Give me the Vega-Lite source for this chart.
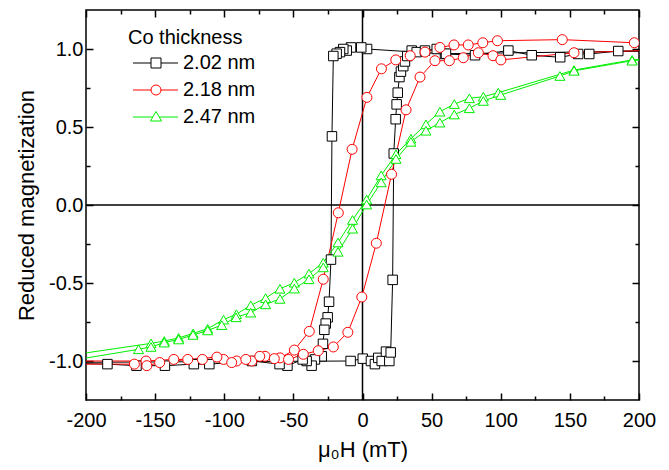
{
  "$schema": "https://vega.github.io/schema/vega-lite/v6.json",
  "width": 553,
  "height": 390,
  "autosize": {"type": "none"},
  "padding": {"left": 86, "top": 10, "right": 30, "bottom": 70},
  "config": {"font": "Liberation Sans", "view": {"stroke": "#000", "strokeWidth": 1.5}},
  "data": {"values": [
    {"s":"2.02 nm","i":1,"H":240,"M":0.99},
    {"s":"2.02 nm","i":2,"H":185,"M":0.987},
    {"s":"2.02 nm","i":3,"H":164,"M":0.968},
    {"s":"2.02 nm","i":4,"H":156,"M":0.968},
    {"s":"2.02 nm","i":5,"H":143,"M":0.947},
    {"s":"2.02 nm","i":6,"H":122.4,"M":0.96},
    {"s":"2.02 nm","i":7,"H":105.5,"M":0.99},
    {"s":"2.02 nm","i":8,"H":81.4,"M":0.96},
    {"s":"2.02 nm","i":9,"H":59.7,"M":0.968},
    {"s":"2.02 nm","i":10,"H":3.3,"M":1.0},
    {"s":"2.02 nm","i":11,"H":-0.9,"M":1.01},
    {"s":"2.02 nm","i":12,"H":-8.3,"M":1.01},
    {"s":"2.02 nm","i":13,"H":-11.4,"M":0.99},
    {"s":"2.02 nm","i":14,"H":-13.9,"M":1.0},
    {"s":"2.02 nm","i":15,"H":-16.3,"M":0.98},
    {"s":"2.02 nm","i":16,"H":-18.7,"M":0.97},
    {"s":"2.02 nm","i":17,"H":-21.1,"M":0.955},
    {"s":"2.02 nm","i":18,"H":-22.1,"M":0.44},
    {"s":"2.02 nm","i":19,"H":-22.8,"M":-0.35},
    {"s":"2.02 nm","i":20,"H":-24.2,"M":-0.62},
    {"s":"2.02 nm","i":21,"H":-25.2,"M":-0.72},
    {"s":"2.02 nm","i":22,"H":-26.6,"M":-0.76},
    {"s":"2.02 nm","i":23,"H":-27.6,"M":-0.8},
    {"s":"2.02 nm","i":24,"H":-28.6,"M":-0.89},
    {"s":"2.02 nm","i":25,"H":-29.5,"M":-0.97},
    {"s":"2.02 nm","i":26,"H":-34.4,"M":-0.99},
    {"s":"2.02 nm","i":27,"H":-36.8,"M":-1.03},
    {"s":"2.02 nm","i":28,"H":-40.4,"M":-1.0},
    {"s":"2.02 nm","i":29,"H":-43.3,"M":-0.99},
    {"s":"2.02 nm","i":30,"H":-54.3,"M":-1.03},
    {"s":"2.02 nm","i":31,"H":-60,"M":-1.02},
    {"s":"2.02 nm","i":32,"H":-80,"M":-1.0},
    {"s":"2.02 nm","i":33,"H":-110.8,"M":-1.02},
    {"s":"2.02 nm","i":34,"H":-122,"M":-1.02},
    {"s":"2.02 nm","i":35,"H":-142.9,"M":-1.03},
    {"s":"2.02 nm","i":36,"H":-163.5,"M":-1.03},
    {"s":"2.02 nm","i":37,"H":-184.5,"M":-1.02},
    {"s":"2.02 nm","i":38,"H":-240,"M":-1.01},
    {"s":"2.02 nm","i":39,"H":-8.6,"M":-1.0},
    {"s":"2.02 nm","i":40,"H":0.2,"M":-0.985},
    {"s":"2.02 nm","i":41,"H":6.1,"M":-1.0},
    {"s":"2.02 nm","i":42,"H":9.0,"M":-1.02},
    {"s":"2.02 nm","i":43,"H":11.4,"M":-0.98},
    {"s":"2.02 nm","i":44,"H":13.9,"M":-1.0},
    {"s":"2.02 nm","i":45,"H":17.0,"M":-0.94},
    {"s":"2.02 nm","i":46,"H":19.4,"M":-1.0},
    {"s":"2.02 nm","i":47,"H":20.4,"M":-0.945},
    {"s":"2.02 nm","i":48,"H":21.8,"M":-0.48},
    {"s":"2.02 nm","i":49,"H":22.6,"M":0.33},
    {"s":"2.02 nm","i":50,"H":24.0,"M":0.55},
    {"s":"2.02 nm","i":51,"H":24.7,"M":0.645},
    {"s":"2.02 nm","i":52,"H":25.5,"M":0.72},
    {"s":"2.02 nm","i":53,"H":26.7,"M":0.82},
    {"s":"2.02 nm","i":54,"H":27.8,"M":0.855},
    {"s":"2.02 nm","i":55,"H":29.5,"M":0.89},
    {"s":"2.02 nm","i":56,"H":30.7,"M":0.92},
    {"s":"2.02 nm","i":57,"H":32.4,"M":0.955},
    {"s":"2.02 nm","i":58,"H":35.6,"M":0.99},
    {"s":"2.02 nm","i":59,"H":39.2,"M":0.98},
    {"s":"2.02 nm","i":60,"H":45.2,"M":0.99},
    {"s":"2.02 nm","i":61,"H":53.7,"M":1.0},
    {"s":"2.02 nm","i":62,"H":60.4,"M":0.97},
    {"s":"2.02 nm","i":63,"H":240,"M":0.99},
    {"s":"2.18 nm","i":1,"H":240,"M":1.03},
    {"s":"2.18 nm","i":2,"H":196.6,"M":1.04},
    {"s":"2.18 nm","i":3,"H":144.5,"M":1.06},
    {"s":"2.18 nm","i":4,"H":97.6,"M":1.053},
    {"s":"2.18 nm","i":5,"H":87,"M":1.04},
    {"s":"2.18 nm","i":6,"H":76.5,"M":1.026},
    {"s":"2.18 nm","i":7,"H":66.2,"M":1.026},
    {"s":"2.18 nm","i":8,"H":56,"M":1.01},
    {"s":"2.18 nm","i":9,"H":45.2,"M":0.98},
    {"s":"2.18 nm","i":10,"H":34.5,"M":0.957},
    {"s":"2.18 nm","i":11,"H":24.1,"M":0.93},
    {"s":"2.18 nm","i":12,"H":13.7,"M":0.873},
    {"s":"2.18 nm","i":13,"H":3.2,"M":0.69},
    {"s":"2.18 nm","i":14,"H":-7.5,"M":0.357},
    {"s":"2.18 nm","i":15,"H":-17.5,"M":-0.05},
    {"s":"2.18 nm","i":16,"H":-28.4,"M":-0.476},
    {"s":"2.18 nm","i":17,"H":-38.5,"M":-0.81},
    {"s":"2.18 nm","i":18,"H":-49.3,"M":-0.93},
    {"s":"2.18 nm","i":19,"H":-59.7,"M":-0.98},
    {"s":"2.18 nm","i":20,"H":-70.5,"M":-0.97},
    {"s":"2.18 nm","i":21,"H":-80.1,"M":-1.0},
    {"s":"2.18 nm","i":22,"H":-91,"M":-1.0},
    {"s":"2.18 nm","i":23,"H":-100.5,"M":-0.99},
    {"s":"2.18 nm","i":24,"H":-115.8,"M":-0.99},
    {"s":"2.18 nm","i":25,"H":-136.5,"M":-0.99},
    {"s":"2.18 nm","i":26,"H":-156.6,"M":-1.0},
    {"s":"2.18 nm","i":27,"H":-240,"M":-1.0},
    {"s":"2.18 nm","i":28,"H":-240,"M":-1.02},
    {"s":"2.18 nm","i":29,"H":-165,"M":-1.02},
    {"s":"2.18 nm","i":30,"H":-156,"M":-1.03},
    {"s":"2.18 nm","i":31,"H":-146.7,"M":-1.01},
    {"s":"2.18 nm","i":32,"H":-126.4,"M":-0.99},
    {"s":"2.18 nm","i":33,"H":-105.3,"M":-0.975},
    {"s":"2.18 nm","i":34,"H":-94.6,"M":-1.01},
    {"s":"2.18 nm","i":35,"H":-84.4,"M":-0.99},
    {"s":"2.18 nm","i":36,"H":-74.3,"M":-0.97},
    {"s":"2.18 nm","i":37,"H":-63.8,"M":-0.985},
    {"s":"2.18 nm","i":38,"H":-53.5,"M":-0.99},
    {"s":"2.18 nm","i":39,"H":-42.8,"M":-0.957},
    {"s":"2.18 nm","i":40,"H":-32,"M":-0.934},
    {"s":"2.18 nm","i":41,"H":-21.1,"M":-0.91},
    {"s":"2.18 nm","i":42,"H":-10.6,"M":-0.816},
    {"s":"2.18 nm","i":43,"H":-0.5,"M":-0.59},
    {"s":"2.18 nm","i":44,"H":10.0,"M":-0.245},
    {"s":"2.18 nm","i":45,"H":21,"M":0.197},
    {"s":"2.18 nm","i":46,"H":31.5,"M":0.61},
    {"s":"2.18 nm","i":47,"H":41.6,"M":0.82},
    {"s":"2.18 nm","i":48,"H":52.4,"M":0.925},
    {"s":"2.18 nm","i":49,"H":62.8,"M":0.925},
    {"s":"2.18 nm","i":50,"H":72.9,"M":0.944},
    {"s":"2.18 nm","i":51,"H":83.8,"M":0.976},
    {"s":"2.18 nm","i":52,"H":94.4,"M":0.957},
    {"s":"2.18 nm","i":53,"H":100.1,"M":0.93},
    {"s":"2.18 nm","i":54,"H":153,"M":0.976},
    {"s":"2.18 nm","i":55,"H":240,"M":1.0},
    {"s":"2.47 nm","i":1,"H":240,"M":0.96},
    {"s":"2.47 nm","i":2,"H":195,"M":0.93},
    {"s":"2.47 nm","i":3,"H":153,"M":0.865},
    {"s":"2.47 nm","i":4,"H":98.2,"M":0.72},
    {"s":"2.47 nm","i":5,"H":87.4,"M":0.694},
    {"s":"2.47 nm","i":6,"H":77.3,"M":0.684},
    {"s":"2.47 nm","i":7,"H":66.4,"M":0.647},
    {"s":"2.47 nm","i":8,"H":56,"M":0.598},
    {"s":"2.47 nm","i":9,"H":45.9,"M":0.517},
    {"s":"2.47 nm","i":10,"H":35,"M":0.425},
    {"s":"2.47 nm","i":11,"H":24.2,"M":0.325},
    {"s":"2.47 nm","i":12,"H":13.5,"M":0.19},
    {"s":"2.47 nm","i":13,"H":3.0,"M":0.035},
    {"s":"2.47 nm","i":14,"H":-7.2,"M":-0.096},
    {"s":"2.47 nm","i":15,"H":-17.7,"M":-0.24},
    {"s":"2.47 nm","i":16,"H":-28.4,"M":-0.37},
    {"s":"2.47 nm","i":17,"H":-38.7,"M":-0.44},
    {"s":"2.47 nm","i":18,"H":-49.3,"M":-0.498},
    {"s":"2.47 nm","i":19,"H":-59.7,"M":-0.537},
    {"s":"2.47 nm","i":20,"H":-70.1,"M":-0.597},
    {"s":"2.47 nm","i":21,"H":-80.8,"M":-0.643},
    {"s":"2.47 nm","i":22,"H":-91.2,"M":-0.7},
    {"s":"2.47 nm","i":23,"H":-100.5,"M":-0.735},
    {"s":"2.47 nm","i":24,"H":-112,"M":-0.793},
    {"s":"2.47 nm","i":25,"H":-122.5,"M":-0.823},
    {"s":"2.47 nm","i":26,"H":-133,"M":-0.852},
    {"s":"2.47 nm","i":27,"H":-143.4,"M":-0.872},
    {"s":"2.47 nm","i":28,"H":-153,"M":-0.887},
    {"s":"2.47 nm","i":29,"H":-240,"M":-1.0},
    {"s":"2.47 nm","i":30,"H":-240,"M":-1.04},
    {"s":"2.47 nm","i":31,"H":-162,"M":-0.925},
    {"s":"2.47 nm","i":32,"H":-153,"M":-0.91},
    {"s":"2.47 nm","i":33,"H":-143.4,"M":-0.882},
    {"s":"2.47 nm","i":34,"H":-133,"M":-0.862},
    {"s":"2.47 nm","i":35,"H":-122.6,"M":-0.833},
    {"s":"2.47 nm","i":36,"H":-112,"M":-0.804},
    {"s":"2.47 nm","i":37,"H":-101.8,"M":-0.77},
    {"s":"2.47 nm","i":38,"H":-91.5,"M":-0.72},
    {"s":"2.47 nm","i":39,"H":-80.9,"M":-0.69},
    {"s":"2.47 nm","i":40,"H":-70.1,"M":-0.637},
    {"s":"2.47 nm","i":41,"H":-59.7,"M":-0.602},
    {"s":"2.47 nm","i":42,"H":-49.3,"M":-0.536},
    {"s":"2.47 nm","i":43,"H":-38.7,"M":-0.476},
    {"s":"2.47 nm","i":44,"H":-28.4,"M":-0.4},
    {"s":"2.47 nm","i":45,"H":-17.7,"M":-0.3},
    {"s":"2.47 nm","i":46,"H":-7.2,"M":-0.152},
    {"s":"2.47 nm","i":47,"H":3.0,"M":0.003},
    {"s":"2.47 nm","i":48,"H":13.5,"M":0.145},
    {"s":"2.47 nm","i":49,"H":24.2,"M":0.295},
    {"s":"2.47 nm","i":50,"H":35,"M":0.405},
    {"s":"2.47 nm","i":51,"H":45.9,"M":0.476},
    {"s":"2.47 nm","i":52,"H":56,"M":0.528},
    {"s":"2.47 nm","i":53,"H":66.4,"M":0.58},
    {"s":"2.47 nm","i":54,"H":77.3,"M":0.62},
    {"s":"2.47 nm","i":55,"H":87.4,"M":0.667},
    {"s":"2.47 nm","i":56,"H":100,"M":0.705},
    {"s":"2.47 nm","i":57,"H":142.8,"M":0.827},
    {"s":"2.47 nm","i":58,"H":153,"M":0.86},
    {"s":"2.47 nm","i":59,"H":195,"M":0.925},
    {"s":"2.47 nm","i":60,"H":240,"M":0.96}
  ]},
  "resolve": {"axis": {"x": "independent", "y": "independent"}},
  "layer": [
    {
      "data": {"values": [{}]},
      "mark": {"type": "rule", "color": "#000", "strokeWidth": 1.5},
      "encoding": {
        "x": {"datum": 0, "type": "quantitative",
          "scale": {"domain": [-200, 200], "nice": false, "zero": false},
          "axis": {"orient": "bottom", "values": [-200,-175,-150,-125,-100,-75,-50,-25,0,25,50,75,100,125,150,175,200],
            "domain": false, "grid": false, "tickColor": "#000", "tickWidth": 1.5,
            "tickSize": {"condition": {"test": "datum.value % 50 === 0", "value": -7}, "value": -4},
            "labelExpr": "datum.value % 50 === 0 ? replace(datum.label, '\u2212', '-') : ''",
            "labelFontSize": 20, "labelColor": "#000", "labelPadding": 17, "labelFlush": false, "labelOverlap": false,
            "title": "μ₀H (mT)", "titleFontSize": 22, "titleFontWeight": "normal", "titleColor": "#000", "titlePadding": 6}
        }
      }
    },
    {
      "data": {"values": [{}]},
      "mark": {"type": "rule", "color": "#000", "strokeWidth": 1.5},
      "encoding": {
        "y": {"datum": 0, "type": "quantitative",
          "scale": {"domain": [-1.25, 1.25], "nice": false, "zero": false},
          "axis": {"orient": "left", "values": [-1,-0.75,-0.5,-0.25,0,0.25,0.5,0.75,1],
            "domain": false, "grid": false, "tickColor": "#000", "tickWidth": 1.5,
            "tickSize": {"condition": {"test": "abs(datum.value * 2 - round(datum.value * 2)) < 0.01", "value": -7}, "value": -4},
            "format": ".1f",
            "labelExpr": "abs(datum.value * 2 - round(datum.value * 2)) < 0.01 ? replace(datum.label, '\u2212', '-') : ''",
            "labelFontSize": 20, "labelColor": "#000", "labelPadding": 10, "labelFlush": false, "labelOverlap": false,
            "title": "Reduced magnetization", "titleFontSize": 22, "titleFontWeight": "normal", "titleColor": "#000", "titlePadding": 10}
        }
      }
    },
    {
      "mark": {"type": "point", "clip": true, "filled": false, "fill": "white", "opacity": 0, "size": 80},
      "encoding": {
        "x": {"field": "H", "type": "quantitative", "scale": {"domain": [-200, 200], "nice": false, "zero": false}, "axis": null},
        "y": {"field": "M", "type": "quantitative", "scale": {"domain": [-1.25, 1.25], "nice": false, "zero": false}, "axis": null},
        "color": {"field": "s", "type": "nominal",
          "scale": {"domain": ["2.02 nm", "2.18 nm", "2.47 nm"], "range": ["#000000", "#ff0000", "#00ee00"]},
          "legend": {"orient": "none", "legendX": 42, "legendY": 18, "title": "Co thickness", "padding": 0,
            "titleFontSize": 20, "titleFontWeight": "normal", "titleColor": "#000", "titlePadding": 5,
            "labelFontSize": 20, "labelColor": "#000", "symbolSize": 100, "symbolStrokeWidth": 1, "symbolOpacity": 1,
            "symbolFillColor": "white", "rowPadding": 7, "labelOffset": 17, "symbolOffset": 18}},
        "shape": {"field": "s", "type": "nominal",
          "scale": {"domain": ["2.02 nm", "2.18 nm", "2.47 nm"],
            "range": ["M-4.6,0H-1M1,0H4.4M-1,-1H1V1H-1Z", "M-4.6,0H-1M1,0H4.4M1,0A1,1 0 1,1 -1,0A1,1 0 1,1 1,0Z", "M-4.6,0H-0.64M0.64,0H4.4M0,-1.1L1.1,0.8L-1.1,0.8Z"]},
          "legend": {"orient": "none", "legendX": 42, "legendY": 18, "title": "Co thickness", "padding": 0,
            "titleFontSize": 20, "titleFontWeight": "normal", "titleColor": "#000", "titlePadding": 5,
            "labelFontSize": 20, "labelColor": "#000", "symbolSize": 100, "symbolStrokeWidth": 1, "symbolOpacity": 1,
            "symbolFillColor": "white", "rowPadding": 7, "labelOffset": 17, "symbolOffset": 18}}
      }
    },
    {
      "mark": {"type": "line", "clip": true, "strokeWidth": 1},
      "encoding": {
        "x": {"field": "H", "type": "quantitative",
          "scale": {"domain": [-200, 200], "nice": false, "zero": false},
          "axis": {"orient": "top", "values": [-200,-175,-150,-125,-100,-75,-50,-25,0,25,50,75,100,125,150,175,200],
            "domain": false, "grid": false, "labels": false, "title": null, "tickColor": "#000", "tickWidth": 1.5,
            "tickSize": {"condition": {"test": "datum.value % 50 === 0", "value": -7}, "value": -4}}},
        "y": {"field": "M", "type": "quantitative",
          "scale": {"domain": [-1.25, 1.25], "nice": false, "zero": false},
          "axis": {"orient": "right", "values": [-1,-0.75,-0.5,-0.25,0,0.25,0.5,0.75,1],
            "domain": false, "grid": false, "labels": false, "title": null, "tickColor": "#000", "tickWidth": 1.5,
            "tickSize": {"condition": {"test": "abs(datum.value * 2 - round(datum.value * 2)) < 0.01", "value": -7}, "value": -4}}},
        "color": {"field": "s", "type": "nominal",
          "scale": {"domain": ["2.02 nm", "2.18 nm", "2.47 nm"], "range": ["#000000", "#ff0000", "#00ee00"]}},
        "order": {"field": "i", "type": "quantitative"}
      }
    },
    {
      "transform": [{"filter": "datum.s === '2.02 nm'"}],
      "mark": {"type": "point", "shape": "square", "clip": true, "filled": false, "fill": "white", "opacity": 1, "size": 90, "strokeWidth": 1},
      "encoding": {
        "x": {"field": "H", "type": "quantitative", "scale": {"domain": [-200, 200], "nice": false, "zero": false}, "axis": null},
        "y": {"field": "M", "type": "quantitative", "scale": {"domain": [-1.25, 1.25], "nice": false, "zero": false}, "axis": null},
        "color": {"field": "s", "type": "nominal",
          "scale": {"domain": ["2.02 nm", "2.18 nm", "2.47 nm"], "range": ["#000000", "#ff0000", "#00ee00"]}}
      }
    },
    {
      "transform": [{"filter": "datum.s === '2.18 nm'"}],
      "mark": {"type": "point", "shape": "circle", "clip": true, "filled": false, "fill": "white", "opacity": 1, "size": 100, "strokeWidth": 1},
      "encoding": {
        "x": {"field": "H", "type": "quantitative", "scale": {"domain": [-200, 200], "nice": false, "zero": false}, "axis": null},
        "y": {"field": "M", "type": "quantitative", "scale": {"domain": [-1.25, 1.25], "nice": false, "zero": false}, "axis": null},
        "color": {"field": "s", "type": "nominal",
          "scale": {"domain": ["2.02 nm", "2.18 nm", "2.47 nm"], "range": ["#000000", "#ff0000", "#00ee00"]}}
      }
    },
    {
      "transform": [{"filter": "datum.s === '2.47 nm'"}],
      "mark": {"type": "point", "shape": "triangle-up", "clip": true, "filled": false, "fill": "white", "opacity": 1, "size": 100, "strokeWidth": 1},
      "encoding": {
        "x": {"field": "H", "type": "quantitative", "scale": {"domain": [-200, 200], "nice": false, "zero": false}, "axis": null},
        "y": {"field": "M", "type": "quantitative", "scale": {"domain": [-1.25, 1.25], "nice": false, "zero": false}, "axis": null},
        "color": {"field": "s", "type": "nominal",
          "scale": {"domain": ["2.02 nm", "2.18 nm", "2.47 nm"], "range": ["#000000", "#ff0000", "#00ee00"]}}
      }
    }
  ]
}
